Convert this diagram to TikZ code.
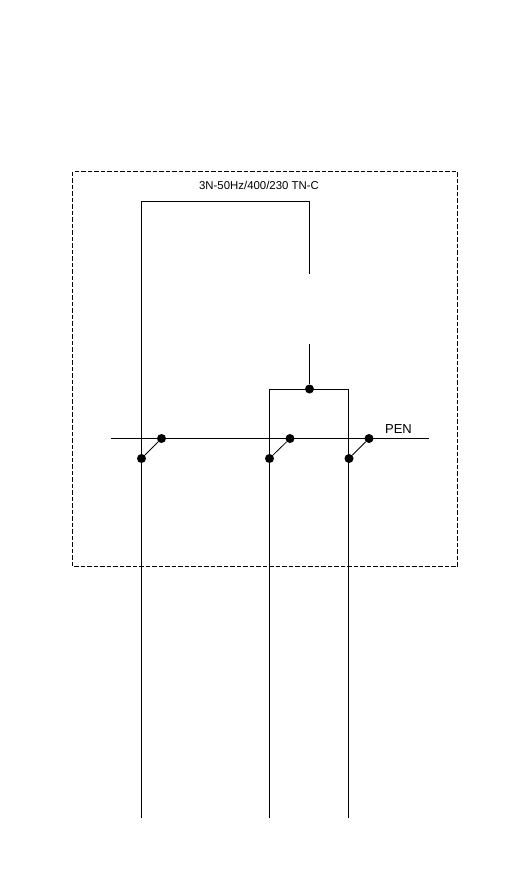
\documentclass[tikz,border=0pt]{standalone}
\usepackage{fontspec}
\setmainfont{Liberation Sans}
\begin{document}
\begin{tikzpicture}[
              x=1pt, y=-1pt,
              dot/.style={circle, fill=black, inner sep=0pt, minimum size=9pt},
              wire/.style={line width=1.1pt},
              thin wire/.style={line width=0.8pt},
              frame/.style={line width=1.1pt, dash pattern=on 4.5pt off 2pt}
            ]
              \useasboundingbox (0,0) rectangle (527,892);

              % Define frame corners
              \coordinate (FrameNW) at (72.5,171.5);
              \coordinate (FrameSE) at (457.5,566.5);
              \draw[frame] (FrameNW) rectangle (FrameSE);

              % Define contact nodes
              \node[dot] (L1) at (141.5,458.5) {};
              \node[dot] (P1) at (161.5,438.5) {};
              \node[dot] (L2) at (269.5,458.5) {};
              \node[dot] (P2) at (290,438.5) {};
              \node[dot] (L3) at (349,458.5) {};
              \node[dot] (P3) at (369,438.5) {};
              \node[dot] (J) at (309.5,389) {};

              % Define free ends
              \coordinate (BusW) at (111,438.5);
              \coordinate (BusE) at (429,438.5);
              \coordinate (TopW) at (141.5,201.5);
              \coordinate (TopE) at (309.5,201.5);
              \coordinate (GapT) at (309.5,274);
              \coordinate (GapB) at (309.5,344);
              \coordinate (JW) at (269.5,389.5);
              \coordinate (JE) at (348.5,389.5);
              \coordinate (E1) at (141.5,818);
              \coordinate (E2) at (269.5,818);
              \coordinate (E3) at (348.5,818);

              % Draw wires
              \draw[wire] (BusW) -- (BusE);
              \draw[wire] (E1) -- (L1.center) -- (TopW) -- (TopE) -- (GapT);
              \draw[wire] (GapB) -- (J);
              \draw[wire] (E2) -- (JW) -- (JE) -- (E3);

              % Draw contact links
              \draw[thin wire] (L1) -- (P1);
              \draw[thin wire] (L2) -- (P2);
              \draw[thin wire] (L3) -- (P3);

              % Add labels
              \node[font=\fontsize{11.4pt}{13pt}\selectfont, inner sep=0pt] (Supply) at (259,185) {3N-50Hz/400/230 TN-C};
              \node[font=\fontsize{13pt}{15pt}\selectfont, inner sep=0pt] (Pen) at (398.5,429.5) {PEN};
            \end{tikzpicture}
\end{document}
